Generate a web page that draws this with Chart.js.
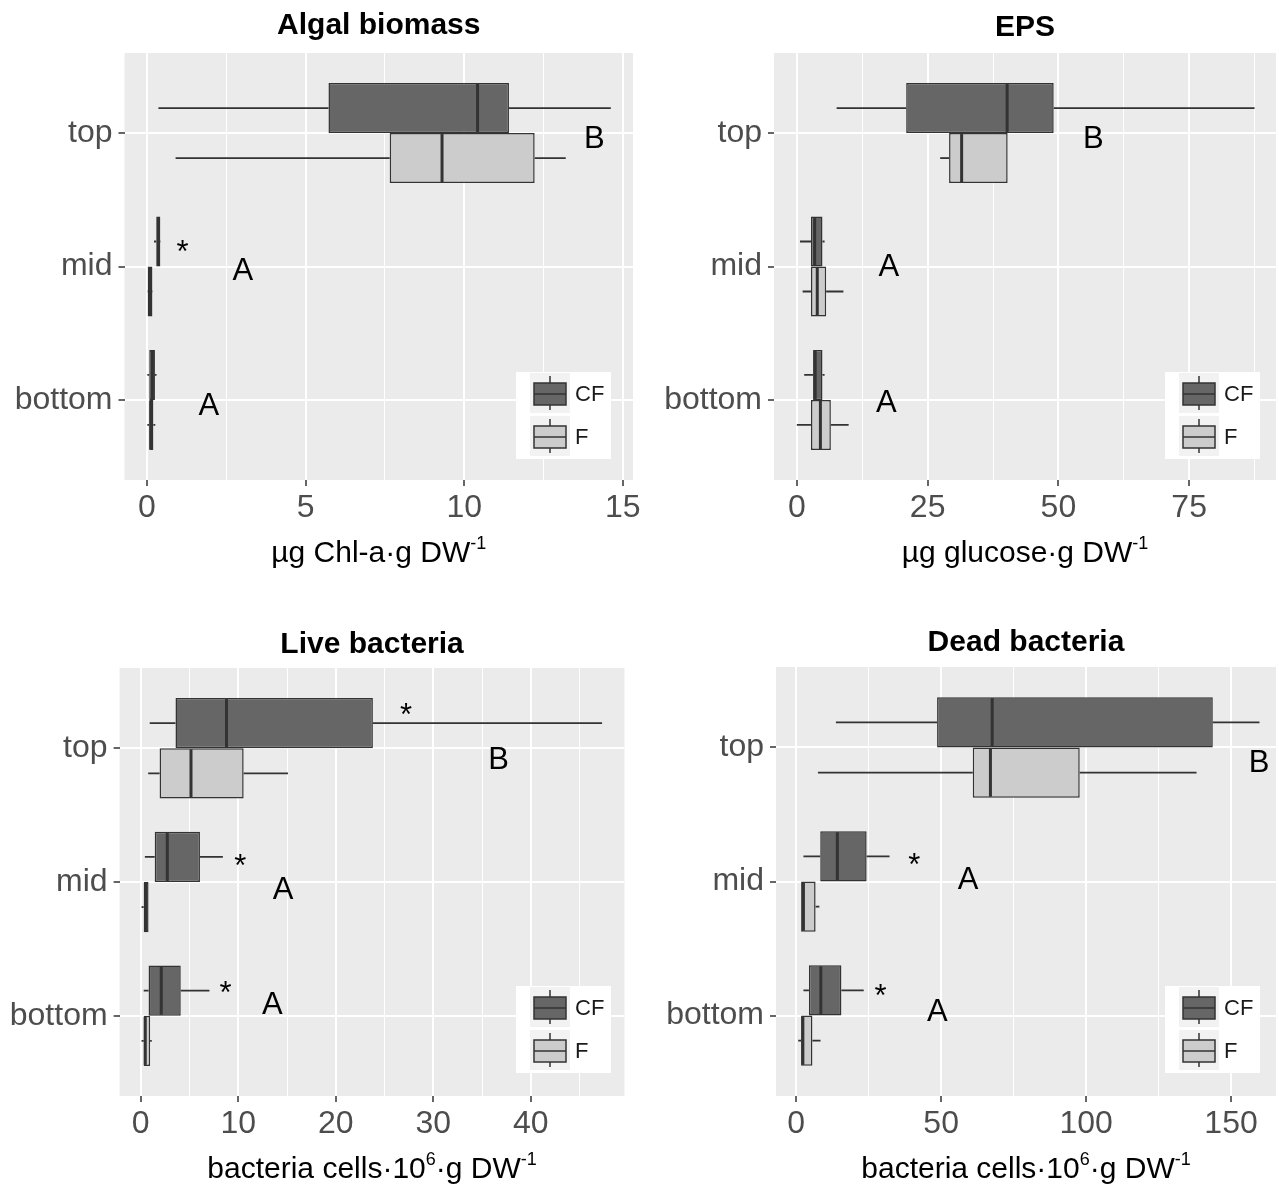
<!DOCTYPE html>
<html>
<head>
<meta charset="utf-8">
<script src="https://cdn.jsdelivr.net/npm/chart.js@4.4.1/dist/chart.umd.min.js"></script>
<style>
  html, body { margin: 0; padding: 0; background: #fff; overflow: hidden; }
  canvas { position: absolute; }
</style>
</head>
<body>
<canvas id="algae" width="640" height="593" style="left:0;top:0"></canvas>
<canvas id="eps" width="639" height="593" style="left:640px;top:0"></canvas>
<canvas id="live" width="640" height="594" style="left:0;top:593px"></canvas>
<canvas id="dead" width="639" height="594" style="left:640px;top:593px"></canvas>
<script>
// depth levels, top to bottom (y value 3 = top)
const depths = ['top', 'mid', 'bottom'];
const depthY = [3, 2, 1];
const treatments = ['CF', 'F'];

// each row: [lower whisker, Q1, median, Q3, upper whisker], rows = top, mid, bottom
const algaeCF = [[0.36, 5.72, 10.42, 11.41, 14.62], [0.22, 0.29, 0.36, 0.42, 0.43], [0.01, 0.07, 0.17, 0.25, 0.30]];
const algaeF = [[0.90, 7.65, 9.30, 12.22, 13.20], [0.01, 0.02, 0.08, 0.17, 0.18], [0.01, 0.07, 0.12, 0.20, 0.26]];
const epsCF = [[7.6, 20.9, 40.2, 49.1, 87.5], [0.6, 2.7, 3.4, 4.9, 5.3], [1.4, 3.1, 3.5, 4.9, 5.3]];
const epsF = [[27.4, 29.1, 31.5, 40.3, 40.3], [1.1, 2.7, 3.9, 5.6, 8.9], [0.0, 2.7, 4.5, 6.5, 9.9]];
const liveCF = [[0.92, 3.56, 8.79, 23.8, 47.3], [0.42, 1.43, 2.72, 6.07, 8.42], [0.30, 0.80, 2.1, 4.1, 7.04]];
const liveF = [[0.76, 1.93, 5.15, 10.55, 15.1], [0.08, 0.30, 0.50, 0.80, 0.80], [0.08, 0.30, 0.46, 0.96, 1.13]];
const deadCF = [[13.7, 48.6, 67.6, 143.7, 159.8], [2.5, 8.3, 14.2, 24.3, 32.2], [2.5, 4.4, 8.5, 15.6, 23.3]];
const deadF = [[7.5, 60.9, 67.0, 97.8, 138.1], [1.7, 1.7, 2.5, 6.7, 8.0], [0.7, 1.7, 2.3, 5.6, 8.4]];

// x tick labels (majors) and minor grid positions
const algaeTicks = [0, 5, 10, 15], algaeMinor = [2.5, 7.5, 12.5];
const epsTicks = [0, 25, 50, 75], epsMinor = [12.5, 37.5, 62.5, 87.5];
const liveTicks = [0, 10, 20, 30, 40], liveMinor = [5, 15, 25, 35, 45];
const deadTicks = [0, 50, 100, 150], deadMinor = [25, 75, 125];

// significance letters / asterisks
const algaeNoteText = ['B', '*', 'A', 'A'];
const algaeNoteX = [14.1, 1.12, 3.02, 1.95];
const algaeNoteY = [2.97, 2.165, 1.985, 0.97];
const epsNoteText = ['B', 'A', 'A'];
const epsNoteX = [56.7, 17.6, 17.1];
const epsNoteY = [2.97, 2.01, 0.99];
const liveNoteText = ['*', 'B', '*', 'A', '*', 'A'];
const liveNoteX = [27.2, 36.7, 10.2, 14.6, 8.7, 13.5];
const liveNoteY = [3.31, 2.925, 2.18, 1.96, 1.233, 1.096];
const deadNoteText = ['B', '*', 'A', '*', 'A'];
const deadNoteX = [159.7, 40.7, 59.3, 29.1, 48.7];
const deadNoteY = [2.90, 2.18, 2.025, 1.206, 1.04];

const FONT = "'Liberation Sans', Arial, sans-serif";
const fills = ['#666666', '#CCCCCC'];
const lineCol = '#333333';

const panels = {
  algae: {
    title: 'Algal biomass', titleY: 26,
    axisTitle: [{ t: 'µg Chl-a·g DW' }, { t: '-1', sup: true }],
    series: [algaeCF, algaeF], ticks: algaeTicks, minor: algaeMinor,
    min: -0.71, max: 15.32,
    notes: [algaeNoteText, algaeNoteX, algaeNoteY],
    top: 53, padRight: 7, yWidth: 124.5, xHeight: 113, legend: [516, 372]
  },
  eps: {
    title: 'EPS', titleY: 28,
    axisTitle: [{ t: 'µg glucose·g DW' }, { t: '-1', sup: true }],
    series: [epsCF, epsF], ticks: epsTicks, minor: epsMinor,
    min: -4.37, max: 91.6,
    notes: [epsNoteText, epsNoteX, epsNoteY],
    top: 53, padRight: 0, yWidth: 134, xHeight: 113, legend: [525, 372]
  },
  live: {
    title: 'Live bacteria', titleY: 52,
    axisTitle: [{ t: 'bacteria cells·10' }, { t: '6', sup: true }, { t: '·g DW' }, { t: '-1', sup: true }],
    series: [liveCF, liveF], ticks: liveTicks, minor: liveMinor,
    min: -2.17, max: 49.6,
    notes: [liveNoteText, liveNoteX, liveNoteY],
    top: 75, padRight: 15.5, yWidth: 119.6, xHeight: 91, legend: [516, 393]
  },
  dead: {
    title: 'Dead bacteria', titleY: 50,
    axisTitle: [{ t: 'bacteria cells·10' }, { t: '6', sup: true }, { t: '·g DW' }, { t: '-1', sup: true }],
    series: [deadCF, deadF], ticks: deadTicks, minor: deadMinor,
    min: -6.96, max: 165.5,
    notes: [deadNoteText, deadNoteX, deadNoteY],
    top: 74, padRight: 0, yWidth: 136, xHeight: 91, legend: [525, 393]
  }
};

function drawRich(ctx, segs, cx, baseline, size) {
  const supSize = size * 0.6;
  let total = 0;
  const widths = segs.map(s => {
    ctx.font = (s.sup ? supSize : size) + 'px ' + FONT;
    const w = ctx.measureText(s.t).width;
    total += w;
    return w;
  });
  let x = cx - total / 2;
  ctx.textAlign = 'left';
  ctx.textBaseline = 'alphabetic';
  segs.forEach((s, i) => {
    ctx.font = (s.sup ? supSize : size) + 'px ' + FONT;
    ctx.fillText(s.t, x, s.sup ? baseline - size * 0.45 : baseline);
    x += widths[i];
  });
}

const boxplotPlugin = {
  id: 'boxplot',
  beforeDraw(chart) {
    const a = chart.chartArea, ctx = chart.ctx;
    ctx.save();
    ctx.fillStyle = '#EBEBEB';
    ctx.fillRect(a.left, a.top, a.right - a.left, a.bottom - a.top);
    ctx.restore();
  },
  beforeDatasetsDraw(chart) {
    const p = panels[chart.canvas.id], ctx = chart.ctx, xs = chart.scales.x;
    ctx.save();
    ctx.strokeStyle = lineCol;
    ctx.lineWidth = 1.8;
    p.series.forEach((rows, k) => {
      chart.getDatasetMeta(k).data.forEach((el, i) => {
        const r = rows[i];
        ctx.beginPath();
        ctx.moveTo(xs.getPixelForValue(r[0]), el.y);
        ctx.lineTo(xs.getPixelForValue(r[1]), el.y);
        ctx.moveTo(xs.getPixelForValue(r[3]), el.y);
        ctx.lineTo(xs.getPixelForValue(r[4]), el.y);
        ctx.stroke();
      });
    });
    ctx.restore();
  },
  afterDatasetsDraw(chart) {
    const p = panels[chart.canvas.id], ctx = chart.ctx, xs = chart.scales.x;
    ctx.save();
    ctx.strokeStyle = lineCol;
    ctx.lineWidth = 3;
    p.series.forEach((rows, k) => {
      chart.getDatasetMeta(k).data.forEach((el, i) => {
        const mx = xs.getPixelForValue(rows[i][2]);
        ctx.beginPath();
        ctx.moveTo(mx, el.y - el.height / 2 + 1);
        ctx.lineTo(mx, el.y + el.height / 2 - 1);
        ctx.stroke();
      });
    });
    ctx.restore();
  },
  afterDraw(chart) {
    const p = panels[chart.canvas.id], ctx = chart.ctx, a = chart.chartArea;
    const xs = chart.scales.x, ys = chart.scales.y;
    const cx = (a.left + a.right) / 2;
    ctx.save();
    // panel title
    ctx.fillStyle = '#000';
    ctx.font = 'bold 30px ' + FONT;
    ctx.textAlign = 'center';
    ctx.textBaseline = 'middle';
    ctx.fillText(p.title, cx, p.titleY);
    // x axis title with superscripts
    drawRich(ctx, p.axisTitle, cx, a.bottom + 82, 30);
    // letters and asterisks
    const [txt, nx, ny] = p.notes;
    ctx.font = '31px ' + FONT;
    ctx.textAlign = 'center';
    ctx.textBaseline = 'alphabetic';
    txt.forEach((t, i) => {
      const px = xs.getPixelForValue(nx[i]);
      const py = ys.getPixelForValue(ny[i]);
      ctx.fillText(t, px, py + (t === '*' ? 0.58 : 0.36) * 31);
    });
    // legend
    const [lx, ly] = p.legend;
    ctx.fillStyle = '#fff';
    ctx.fillRect(lx, ly, 95, 87);
    treatments.forEach((name, k) => {
      const kx = lx + 14, ky = ly + 1 + k * 43;
      ctx.fillStyle = '#F2F2F2';
      ctx.fillRect(kx, ky, 40, 40);
      ctx.strokeStyle = lineCol;
      ctx.lineWidth = 1.5;
      ctx.beginPath();
      ctx.moveTo(kx + 20, ky + 3);
      ctx.lineTo(kx + 20, ky + 37);
      ctx.stroke();
      ctx.fillStyle = fills[k];
      ctx.fillRect(kx + 4, ky + 10, 32, 22);
      ctx.strokeRect(kx + 4, ky + 10, 32, 22);
      ctx.beginPath();
      ctx.moveTo(kx + 4, ky + 21);
      ctx.lineTo(kx + 36, ky + 21);
      ctx.stroke();
      ctx.fillStyle = '#1A1A1A';
      ctx.font = '22px ' + FONT;
      ctx.textAlign = 'left';
      ctx.textBaseline = 'middle';
      ctx.fillText(name, kx + 45, ky + 22);
    });
    ctx.restore();
  }
};

function near(list, v) {
  return list.some(t => Math.abs(t - v) < 1e-6);
}

function makePanel(id) {
  const p = panels[id];
  const canvas = document.getElementById(id);
  const datasets = treatments.map((name, k) => ({
    label: name,
    data: p.series[k].map((r, i) => ({ x: [r[1], r[3]], y: depthY[i] })),
    backgroundColor: fills[k],
    borderColor: lineCol,
    borderWidth: 1.5,
    borderSkipped: false,
    categoryPercentage: 0.75,
    barPercentage: 1
  }));

  new Chart(canvas.getContext('2d'), {
    type: 'bar',
    data: { datasets },
    options: {
      indexAxis: 'y',
      responsive: false,
      animation: false,
      events: [],
      layout: { padding: { top: p.top, right: p.padRight, left: 0, bottom: 0 } },
      plugins: {
        legend: { display: false },
        title: { display: false },
        tooltip: { enabled: false }
      },
      scales: {
        x: {
          type: 'linear',
          position: 'bottom',
          min: p.min,
          max: p.max,
          beginAtZero: false,
          afterBuildTicks: s => {
            const vals = [p.min].concat(p.ticks, p.minor, [p.max]).sort((a, b) => a - b);
            s.ticks = vals.map(v => ({ value: v }));
          },
          afterFit: s => { s.height = p.xHeight; },
          border: { display: false },
          grid: {
            color: c => (c.tick && (near(p.ticks, c.tick.value) || near(p.minor, c.tick.value))) ? '#FFFFFF' : 'rgba(0,0,0,0)',
            lineWidth: c => (c.tick && near(p.ticks, c.tick.value)) ? 2 : 1,
            tickColor: c => (c.tick && near(p.ticks, c.tick.value)) ? lineCol : 'rgba(0,0,0,0)',
            tickLength: 6,
            tickWidth: 1.5
          },
          ticks: {
            autoSkip: false,
            maxRotation: 0,
            padding: 3,
            color: '#4D4D4D',
            font: { family: FONT, size: 32 },
            callback: v => near(p.ticks, v) ? String(v) : ''
          }
        },
        y: {
          type: 'linear',
          position: 'left',
          min: 0.4,
          max: 3.6,
          offset: false,
          afterBuildTicks: s => { s.ticks = depthY.slice().reverse().map(v => ({ value: v })); },
          afterFit: s => { s.width = p.yWidth; },
          border: { display: false },
          grid: {
            offset: false,
            color: '#FFFFFF',
            lineWidth: 2,
            tickColor: lineCol,
            tickLength: 6,
            tickWidth: 1.5
          },
          ticks: {
            padding: 6,
            color: '#4D4D4D',
            font: { family: FONT, size: 32, lineHeight: 1.05 },
            callback: v => depths[depthY.indexOf(v)]
          }
        }
      }
    },
    plugins: [boxplotPlugin]
  });
}

document.addEventListener('DOMContentLoaded', () => {
  ['algae', 'eps', 'live', 'dead'].forEach(makePanel);
});
</script>
</body>
</html>
